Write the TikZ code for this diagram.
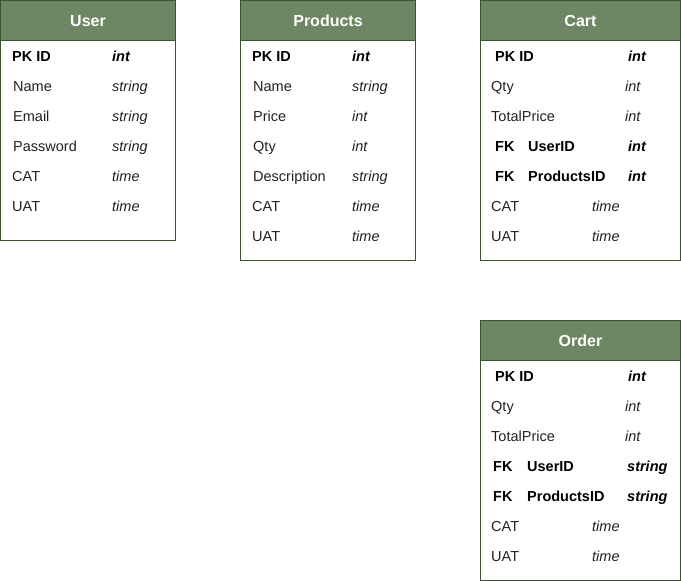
\documentclass[tikz,border=0pt]{standalone}
\usepackage{fontspec}
\setmainfont{Liberation Sans}
\definecolor{hdr}{HTML}{6D8764}
\definecolor{bdr}{HTML}{3A5431}
\definecolor{txt}{HTML}{222222}
\begin{document}
\begin{tikzpicture}[x=1pt,y=-1pt,
  tbl/.style={draw=bdr,fill=white,line width=0.8pt},
  hbox/.style={draw=bdr,fill=hdr,line width=0.8pt},
  htext/.style={text=white,font=\fontsize{16}{18}\selectfont\bfseries,inner sep=0pt},
  fld/.style={anchor=base west,inner sep=0pt,text=txt,font=\fontsize{14.5}{16}\selectfont},
  bfld/.style={fld,text=black,font=\fontsize{14.5}{16}\selectfont\bfseries},
  typ/.style={fld,font=\fontsize{14.5}{16}\selectfont\itshape},
  btyp/.style={fld,text=black,font=\fontsize{14.5}{16}\selectfont\bfseries\itshape}]
\useasboundingbox (0,0) rectangle (681,581);
% User
\draw[tbl] (0.5,0.5) rectangle (175.5,240.5);
\draw[hbox] (0.5,0.5) rectangle (175.5,40.5);
\node[htext] (uh) at (88,21) {User};
\node[bfld] (u1) at (12,61.2) {PK ID};
\node[btyp] (u1t) at (112,61.2) {int};
\node[fld] (u2) at (13,91.2) {Name};
\node[typ] (u2t) at (112,91.2) {string};
\node[fld] (u3) at (13,121.2) {Email};
\node[typ] (u3t) at (112,121.2) {string};
\node[fld] (u4) at (13,151.2) {Password};
\node[typ] (u4t) at (112,151.2) {string};
\node[fld] (u5) at (12,181.2) {CAT};
\node[typ] (u5t) at (112,181.2) {time};
\node[fld] (u6) at (12,211.2) {UAT};
\node[typ] (u6t) at (112,211.2) {time};
% Products
\draw[tbl] (240.5,0.5) rectangle (415.5,260.5);
\draw[hbox] (240.5,0.5) rectangle (415.5,40.5);
\node[htext] (ph) at (328,21) {Products};
\node[bfld] (p1) at (252,61.2) {PK ID};
\node[btyp] (p1t) at (352,61.2) {int};
\node[fld] (p2) at (253,91.2) {Name};
\node[typ] (p2t) at (352,91.2) {string};
\node[fld] (p3) at (253,121.2) {Price};
\node[typ] (p3t) at (352,121.2) {int};
\node[fld] (p4) at (253,151.2) {Qty};
\node[typ] (p4t) at (352,151.2) {int};
\node[fld] (p5) at (253,181.2) {Description};
\node[typ] (p5t) at (352,181.2) {string};
\node[fld] (p6) at (252,211.2) {CAT};
\node[typ] (p6t) at (352,211.2) {time};
\node[fld] (p7) at (252,241.2) {UAT};
\node[typ] (p7t) at (352,241.2) {time};
% Cart
\draw[tbl] (480.5,0.5) rectangle (680.5,260.5);
\draw[hbox] (480.5,0.5) rectangle (680.5,40.5);
\node[htext] (ch) at (580.5,21) {Cart};
\node[bfld] (c1) at (495,61.2) {PK ID};
\node[btyp] (c1t) at (628,61.2) {int};
\node[fld] (c2) at (491,91.2) {Qty};
\node[typ] (c2t) at (625,91.2) {int};
\node[fld] (c3) at (491,121.2) {TotalPrice};
\node[typ] (c3t) at (625,121.2) {int};
\node[bfld] (c4) at (495,151.2) {FK};
\node[bfld] (c4n) at (528,151.2) {UserID};
\node[btyp] (c4t) at (628,151.2) {int};
\node[bfld] (c5) at (495,181.2) {FK};
\node[bfld] (c5n) at (528,181.2) {ProductsID};
\node[btyp] (c5t) at (628,181.2) {int};
\node[fld] (c6) at (491,211.2) {CAT};
\node[typ] (c6t) at (592,211.2) {time};
\node[fld] (c7) at (491,241.2) {UAT};
\node[typ] (c7t) at (592,241.2) {time};
% Order
\draw[tbl] (480.5,320.5) rectangle (680.5,580.5);
\draw[hbox] (480.5,320.5) rectangle (680.5,360.5);
\node[htext] (oh) at (580.5,341) {Order};
\node[bfld] (o1) at (495,381.2) {PK ID};
\node[btyp] (o1t) at (628,381.2) {int};
\node[fld] (o2) at (491,411.2) {Qty};
\node[typ] (o2t) at (625,411.2) {int};
\node[fld] (o3) at (491,441.2) {TotalPrice};
\node[typ] (o3t) at (625,441.2) {int};
\node[bfld] (o4) at (493,471.2) {FK};
\node[bfld] (o4n) at (527,471.2) {UserID};
\node[btyp] (o4t) at (627,471.2) {string};
\node[bfld] (o5) at (493,501.2) {FK};
\node[bfld] (o5n) at (527,501.2) {ProductsID};
\node[btyp] (o5t) at (627,501.2) {string};
\node[fld] (o6) at (491,531.2) {CAT};
\node[typ] (o6t) at (592,531.2) {time};
\node[fld] (o7) at (491,561.2) {UAT};
\node[typ] (o7t) at (592,561.2) {time};
\end{tikzpicture}
\end{document}
